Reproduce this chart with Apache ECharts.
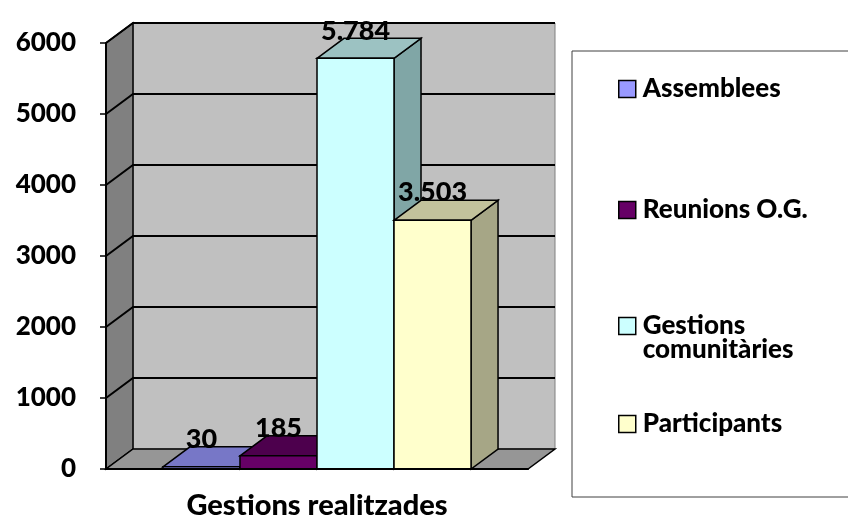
<!DOCTYPE html>
<html>
<head>
<meta charset="utf-8">
<script src="https://cdn.jsdelivr.net/npm/echarts@6/dist/echarts.min.js"></script>
<style>
  html, body { margin: 0; padding: 0; background: #fff; }
  #chart { width: 848px; height: 523px; }
</style>
</head>
<body>
<div id="chart"></div>
<script>
// data
const categories = ['Gestions realitzades']
const seriesNames = ['Assemblees', 'Reunions O.G.', 'Gestions comunitàries', 'Participants']
const values = [30, 185, 5784, 3503]
const yTicks = [0, 1000, 2000, 3000, 4000, 5000, 6000]

// 3d look
const DX = 27
const DY = 20
const GROUP = 0.73
const FONT = 'Lato'
const WEIGHT = 900
const faces = [
  { front: '#9999FF', top: '#7777C7', side: '#6666AA' },
  { front: '#660066', top: '#4D004D', side: '#400040' },
  { front: '#CCFFFF', top: '#9CC2C2', side: '#80A6A6' },
  { front: '#FFFFCC', top: '#C2C29C', side: '#A6A686' }
]
const legendCenters = [88, 209, 325, 423]

// 5784 -> 5.784
const fmt = v => String(v).replace(/\B(?=(\d{3})+(?!\d))/g, '.')

function renderWalls(params, api) {
  const cs = params.coordSys
  const L = cs.x, R = cs.x + cs.width, T = cs.y, B = cs.y + cs.height
  const children = [
    { type: 'rect', shape: { x: L + DX, y: T - DY, width: cs.width, height: cs.height },
      style: { fill: '#C0C0C0', stroke: '#808080', lineWidth: 1 } },
    { type: 'polygon', shape: { points: [[L, B], [L, T], [L + DX, T - DY], [L + DX, B - DY]] },
      style: { fill: '#808080', stroke: '#000', lineWidth: 1.5 } },
    { type: 'polygon', shape: { points: [[L, B], [R, B], [R + DX, B - DY], [L + DX, B - DY]] },
      style: { fill: '#969696', stroke: '#000', lineWidth: 1.5 } }
  ]
  yTicks.forEach(v => {
    if (v === 0) return
    const y = api.coord([0, v])[1]
    children.push({
      type: 'polyline',
      shape: { points: [[L, y], [L + DX, y - DY], [R + DX, y - DY]] },
      style: { stroke: '#000', lineWidth: 2, fill: null }
    })
  })
  return { type: 'group', children }
}

function barRenderer(i) {
  return function (params, api) {
    const top = api.coord([api.value(0), api.value(1)])
    const base = api.coord([api.value(0), 0])
    const band = api.size([1, 0])[0]
    const gw = band * GROUP
    const bw = gw / seriesNames.length
    const x = top[0] - gw / 2 + bw * i
    const y = top[1]
    const yb = base[1]
    const f = faces[i]
    return {
      type: 'group',
      children: [
        { type: 'polygon', shape: { points: [[x + bw, y], [x + bw + DX, y - DY], [x + bw + DX, yb - DY], [x + bw, yb]] },
          style: { fill: f.side, stroke: '#000', lineWidth: 1.5 } },
        { type: 'polygon', shape: { points: [[x, y], [x + DX, y - DY], [x + bw + DX, y - DY], [x + bw, y]] },
          style: { fill: f.top, stroke: '#000', lineWidth: 1.5 } },
        { type: 'rect', shape: { x: x, y: y, width: bw, height: yb - y },
          style: { fill: f.front, stroke: '#000', lineWidth: 1.5 } },
        { type: 'text', x: x + bw / 2, y: y - DY + 6,
          style: { text: fmt(api.value(1)), font: WEIGHT + ' 27px ' + FONT, fill: '#000', align: 'center', verticalAlign: 'bottom' } }
      ]
    }
  }
}

const legends = seriesNames.map((name, i) => {
  const twoLine = name === 'Gestions comunitàries'
  return {
    data: [name],
    left: 618,
    top: twoLine ? legendCenters[i] - 36 : legendCenters[i] - 12,
    padding: 0,
    icon: 'rect',
    itemWidth: 17,
    itemHeight: 17,
    selectedMode: false,
    itemStyle: { borderColor: '#000', borderWidth: 1.5 },
    // blank first line keeps the square level with "Gestions"
    formatter: n => twoLine ? '\n' + n.replace(' ', '\n') : n,
    textStyle: {
      fontFamily: FONT, fontWeight: WEIGHT, fontSize: 26, color: '#000', lineHeight: 24,
      padding: [0, 0, 0, 2]
    }
  }
})

const chart = echarts.init(document.getElementById('chart'))
chart.setOption({
  animation: false,
  backgroundColor: '#fff',
  grid: { left: 106, right: 320, top: 43, bottom: 54 },
  legend: legends,
  graphic: [{
    type: 'rect',
    shape: { x: 572, y: 51, width: 340, height: 446 },
    style: { fill: null, stroke: '#404040', lineWidth: 1 },
    z: -1
  }],
  xAxis: {
    type: 'category',
    data: categories,
    z: 10,
    axisLine: { lineStyle: { color: '#000', width: 2 } },
    axisTick: { length: 9, lineStyle: { color: '#404040', width: 1.5 } },
    axisLabel: { margin: 22, color: '#000', fontFamily: FONT, fontWeight: WEIGHT, fontSize: 29 }
  },
  yAxis: {
    type: 'value',
    min: 0,
    max: 6000,
    interval: 1000,
    z: 10,
    axisLine: { show: true, lineStyle: { color: '#000', width: 2 } },
    axisTick: { show: true, length: 6, lineStyle: { color: '#000', width: 1.5 } },
    splitLine: { show: false },
    axisLabel: { margin: 30, color: '#000', fontFamily: FONT, fontWeight: WEIGHT, fontSize: 26, formatter: v => String(v) }
  },
  series: [
    { type: 'custom', silent: true, z: 1, data: [[0, 0]], renderItem: renderWalls }
  ].concat(seriesNames.map((name, i) => ({
    type: 'custom',
    name: name,
    z: 2 + i,
    itemStyle: { color: faces[i].front },
    data: categories.map((c, k) => [k, values[i]]),
    renderItem: barRenderer(i)
  })))
})
</script>
</body>
</html>
